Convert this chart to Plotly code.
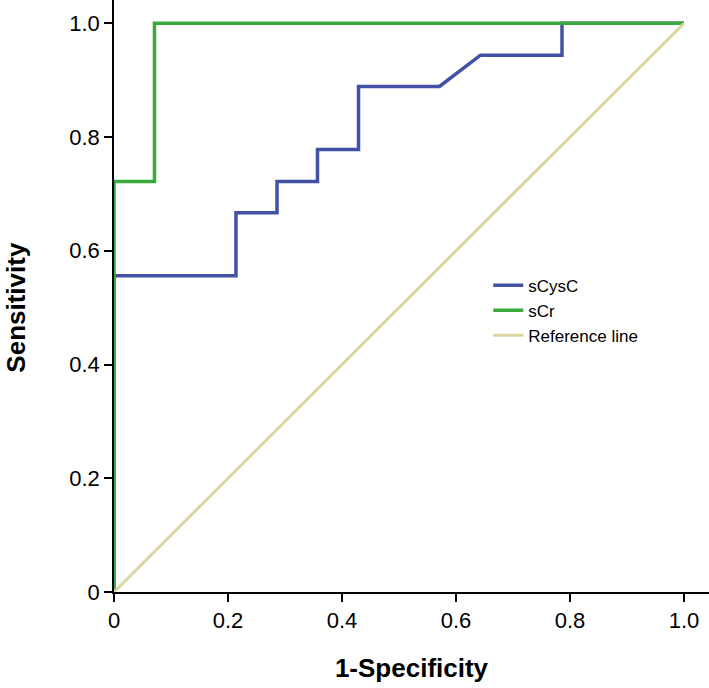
import plotly.graph_objects as go

# ROC data (1-Specificity, Sensitivity)
cysc_x = [0, 0, 0.214, 0.214, 0.286, 0.286, 0.357, 0.357, 0.429, 0.429, 0.571, 0.643, 0.786, 0.786, 1.0]
cysc_y = [0, 0.556, 0.556, 0.667, 0.667, 0.722, 0.722, 0.778, 0.778, 0.889, 0.889, 0.944, 0.944, 1.0, 1.0]

scr_x = [0, 0, 0.071, 0.071, 1.0]
scr_y = [0, 0.722, 0.722, 1.0, 1.0]

ref_x = [0, 1.0]
ref_y = [0, 1.0]

tick_vals = [0, 0.2, 0.4, 0.6, 0.8, 1.0]
tick_text = ["0", "0.2", "0.4", "0.6", "0.8", "1.0"]

FONT = "Liberation Sans, Arial, Helvetica, sans-serif"

fig = go.Figure()
fig.add_trace(go.Scatter(x=cysc_x, y=cysc_y, mode="lines", name="sCysC",
                         line=dict(color="#4351a4", width=3.5)))
fig.add_trace(go.Scatter(x=scr_x, y=scr_y, mode="lines", name="sCr",
                         line=dict(color="#3aaa3c", width=3.5)))
fig.add_trace(go.Scatter(x=ref_x, y=ref_y, mode="lines", name="Reference line",
                         line=dict(color="#dcd5a0", width=3)))

fig.update_layout(
    width=709, height=688,
    margin=dict(l=114, r=0, t=0, b=96),
    paper_bgcolor="white", plot_bgcolor="white",
    font=dict(family=FONT, color="black"),
    showlegend=True,
    legend=dict(x=0.629, y=0.548, xanchor="left", yanchor="top",
                font=dict(size=17, family=FONT), bgcolor="rgba(0,0,0,0)",
                tracegroupgap=0),
    xaxis=dict(range=[0, 1.0439], tickvals=tick_vals, ticktext=tick_text,
               showgrid=False, zeroline=False, showline=True, linecolor="black",
               linewidth=1.5, ticks="outside", ticklen=8, tickwidth=1.5,
               tickcolor="black", tickfont=dict(size=22, family=FONT),
               title=dict(text="<b>1-Specificity</b>", font=dict(size=26, family=FONT),
                          standoff=27)),
    yaxis=dict(range=[0, 1.041], tickvals=tick_vals, ticktext=tick_text,
               showgrid=False, zeroline=False, showline=True, linecolor="black",
               linewidth=1.5, ticks="outside", ticklen=8, tickwidth=1.5,
               tickcolor="black", tickfont=dict(size=22, family=FONT)),
    annotations=[dict(text="<b>Sensitivity</b>", textangle=-90, showarrow=False,
                      xref="paper", yref="paper", x=-0.164, y=0.481,
                      xanchor="center", yanchor="middle",
                      font=dict(size=26, family=FONT, color="black"))],
)

fig.write_html("out.html", config={"displayModeBar": False},
               post_script="document.body.style.margin='0px';document.body.style.overflow='hidden';")
